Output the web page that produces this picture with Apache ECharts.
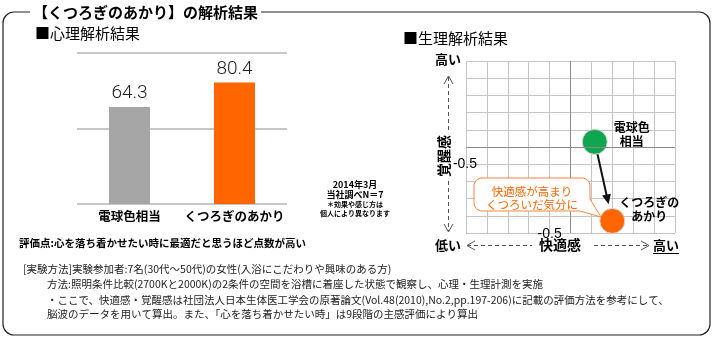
<!DOCTYPE html>
<html>
<head>
<meta charset="utf-8">
<script src="https://cdn.jsdelivr.net/npm/echarts@6/dist/echarts.min.js"></script>
<style>
html,body{margin:0;padding:0;background:#fff;}
#c{width:712px;height:337px;}
</style>
</head>
<body>
<div id="c"></div>
<script>
// 心理解析結果（棒グラフ）
const barCategories = ['電球色相当', 'くつろぎのあかり'];
const barValues = [64.3, 80.4];
const barColors = ['#A6A6A6', '#FF6600'];
const barTicks = { min: 0, max: 100, step: 50 };

// 生理解析結果（快適感 × 覚醒感）
const pointNames = ['電球色\n相当', 'くつろぎの\nあかり'];
const comfortValues = [0.58, 1.0];
const arousalValues = [0.15, -2.15];
const pointColors = ['#10A650', '#FF6600'];
const mapTicks = { min: -2.5, max: 2.5, step: 0.5 };
const shownTick = -0.5;

const noteLines = [
  '[実験方法]実験参加者:7名(30代〜50代)の女性(入浴にこだわりや興味のある方)',
  '方法:照明条件比較(2700Kと2000K)の2条件の空間を浴槽に着座した状態で観察し、心理・生理計測を実施',
  '・ここで、快適感・覚醒感は社団法人日本生体医工学会の原著論文(Vol.48(2010),No.2,pp.197-206)に記載の評価方法を参考にして、',
  '脳波のデータを用いて算出。また、「心を落ち着かせたい時」は9段階の主感評価により算出'
];
const surveyLines = ['2014年3月', '当社調べN＝7', '＊効果や感じ方は', '個人により異なります'];

const JP = '"Noto Sans CJK JP", "Noto Sans", sans-serif';
const chart = echarts.init(document.getElementById('c'));

function txt(id, x, y, text, o) {
  return { type: 'text', id: id, x: x, y: y, z: 10,
    style: Object.assign({ text: text, fontFamily: JP, fontSize: 12, fill: '#000',
      align: 'left', verticalAlign: 'middle' }, o || {}) };
}
function dashed(id, pts) {
  return { type: 'polyline', id: id, z: 5, shape: { points: pts },
    style: { stroke: '#555', lineWidth: 1, lineDash: [4, 3], fill: null } };
}
function chevron(id, pts) {
  return { type: 'polyline', id: id, z: 5, shape: { points: pts },
    style: { stroke: '#555', lineWidth: 1, fill: null } };
}
// quarter-circle corner points for the balloon outline
function corner(cx, cy, r, a0, a1) {
  const pts = [];
  for (let k = 0; k <= 6; k++) {
    const a = a0 + (a1 - a0) * k / 6;
    pts.push([cx + r * Math.cos(a), cy + r * Math.sin(a)]);
  }
  return pts;
}
const bx0 = 474, by0 = 178, bx1 = 590, by1 = 211, br = 8;
const balloonPts = [].concat(
  corner(bx0 + br, by0 + br, br, Math.PI, Math.PI * 1.5),
  corner(bx1 - br, by0 + br, br, Math.PI * 1.5, Math.PI * 2),
  [[bx1, 199], [601, 217], [580, by1]],
  corner(bx0 + br, by1 - br, br, Math.PI * 0.5, Math.PI)
);

const graphics = [
  // outer frame
  { type: 'rect', id: 'frame', z: 1, shape: { x: 3, y: 12, width: 707, height: 323, r: 11 },
    style: { fill: null, stroke: '#222', lineWidth: 1.2 } },
  txt('title', 30, 12, '【くつろぎのあかり】の解析結果',
    { fontSize: 15, fontWeight: 'bold', backgroundColor: '#fff', padding: [2, 3] }),
  txt('h1', 35, 33, '■心理解析結果', { fontSize: 15 }),
  txt('h2', 403, 38, '■生理解析結果', { fontSize: 15 }),
  txt('evalNote', 19, 243, '評価点:心を落ち着かせたい時に最適だと思うほど点数が高い',
    { fontSize: 10.5, fontWeight: 'bold' }),
  txt('s0', 355, 185, surveyLines[0], { fontSize: 9, fontWeight: 'bold', align: 'center' }),
  txt('s1', 355, 195, surveyLines[1], { fontSize: 9, fontWeight: 'bold', align: 'center' }),
  txt('s2', 355, 204, surveyLines[2], { fontSize: 7, fontWeight: 'bold', align: 'center' }),
  txt('s3', 355, 213, surveyLines[3], { fontSize: 7, fontWeight: 'bold', align: 'center' }),
  txt('n0', 23, 269, noteLines[0], { fontSize: 10.5, fill: '#222' }),
  txt('n1', 47, 284, noteLines[1], { fontSize: 10.5, fill: '#222' }),
  txt('n2', 47, 300, noteLines[2], { fontSize: 10.5, fill: '#222' }),
  txt('n3', 47, 314, noteLines[3], { fontSize: 10.5, fill: '#222' }),

  // scatter axis captions
  txt('hiTop', 435, 59, '高い', { fontSize: 13, fontWeight: 'bold' }),
  txt('lo', 435, 245, '低い', { fontSize: 13, fontWeight: 'bold' }),
  txt('hiRight', 653, 245, '高い', { fontSize: 13, fontWeight: 'bold' }),
  { type: 'line', id: 'hiLine', z: 5, shape: { x1: 653, y1: 253.5, x2: 679, y2: 253.5 },
    style: { stroke: '#000', lineWidth: 1 } },
  txt('xName', 560, 245, '快適感', { fontSize: 14, fontWeight: 'bold', align: 'center' }),
  { type: 'text', id: 'yName', x: 444, y: 156, rotation: Math.PI / 2, z: 10,
    style: { text: '覚醒感', fontFamily: JP, fontSize: 14, fontWeight: 'bold', fill: '#000',
      align: 'center', verticalAlign: 'middle' } },
  dashed('xl', [[467, 245.5], [532, 245.5]]),
  chevron('xlh', [[475, 241], [467, 245.5], [475, 250]]),
  dashed('xr', [[594, 245.5], [648, 245.5]]),
  chevron('xrh', [[641, 241], [649, 245.5], [641, 250]]),
  dashed('yt', [[448.5, 77], [448.5, 131]]),
  chevron('yth', [[444, 84], [448.5, 76], [453, 84]]),
  dashed('yb', [[448.5, 181], [448.5, 231]]),
  chevron('ybh', [[444, 224], [448.5, 232], [453, 224]]),

  // speech balloon
  { type: 'polygon', id: 'balloon', z: 6, shape: { points: balloonPts },
    style: { fill: '#fff', stroke: '#F7893A', lineWidth: 1 } },
  txt('b1', 532, 191.5, '快適感が高まり', { fontSize: 11.5, fill: '#FF6600', align: 'center' }),
  txt('b2', 532, 205, 'くつろいだ気分に', { fontSize: 11.5, fill: '#FF6600', align: 'center' })
];

const option = {
  animation: false,
  backgroundColor: '#fff',
  grid: [
    { left: 77, top: 53, width: 210, height: 151 },
    { left: 466, top: 61, width: 209, height: 172 }
  ],
  xAxis: [
    { gridIndex: 0, type: 'category', data: barCategories,
      axisLine: { show: false }, axisTick: { show: false },
      axisLabel: { interval: 0, fontFamily: JP, fontWeight: 'bold', fontSize: 12.5, color: '#000', margin: 6 } },
    { gridIndex: 1, type: 'value', min: mapTicks.min, max: mapTicks.max, interval: mapTicks.step,
      axisLine: { show: false }, axisTick: { show: false },
      splitLine: { lineStyle: { color: '#c4c4c4', width: 1 } },
      axisLabel: { formatter: v => (Math.abs(v - shownTick) < 1e-9 ? String(shownTick) : ''),
        fontFamily: '"Liberation Sans", Arial, sans-serif', fontSize: 14, color: '#000', margin: -6 } }
  ],
  yAxis: [
    { gridIndex: 0, type: 'value', min: barTicks.min, max: barTicks.max, interval: barTicks.step,
      axisLine: { show: false }, axisTick: { show: false }, axisLabel: { show: false },
      splitLine: { lineStyle: { color: '#b4b4b4', width: 1.5 } } },
    { gridIndex: 1, type: 'value', min: mapTicks.min, max: mapTicks.max, interval: mapTicks.step,
      axisLine: { show: false }, axisTick: { show: false },
      splitLine: { lineStyle: { color: '#c4c4c4', width: 1 } },
      axisLabel: { formatter: v => (Math.abs(v - shownTick) < 1e-9 ? String(shownTick) : ''),
        fontFamily: '"Liberation Sans", Arial, sans-serif', fontSize: 14, color: '#000', margin: -11 } }
  ],
  series: [
    { type: 'bar', xAxisIndex: 0, yAxisIndex: 0, barWidth: 41,
      data: barValues.map((v, i) => ({ value: v, itemStyle: { color: barColors[i] } })),
      label: { show: true, position: 'top', distance: 4, fontFamily: 'Roboto, "Liberation Sans", sans-serif',
        fontWeight: 300, fontSize: 19, color: '#222' } },
    // centre cross of the comfort/arousal map
    { type: 'scatter', xAxisIndex: 1, yAxisIndex: 1, data: [], z: 1,
      markLine: { silent: true, symbol: 'none', label: { show: false },
        lineStyle: { color: '#8a8a8a', width: 1, type: 'solid' },
        data: [{ xAxis: 0 }, { yAxis: 0 }] } },
    { type: 'scatter', xAxisIndex: 1, yAxisIndex: 1, z: 4, symbolSize: 25,
      itemStyle: { borderColor: '#d8d8d8', borderWidth: 1, opacity: 1 },
      data: comfortValues.map((x, i) => ({
        value: [x, arousalValues[i]], name: pointNames[i],
        itemStyle: { color: pointColors[i] },
        label: { offset: i === 0 ? [37, -7] : [37, -12] }
      })),
      label: { show: true, position: 'inside', formatter: p => p.name, align: 'center',
        fontFamily: JP, fontWeight: 'bold', fontSize: 12, lineHeight: 14, color: '#000' } }
  ],
  graphic: graphics
};
chart.setOption(option);

// arrow from 電球色相当 to くつろぎのあかり
const pA = chart.convertToPixel({ gridIndex: 1 }, [comfortValues[0], arousalValues[0]]);
const pB = chart.convertToPixel({ gridIndex: 1 }, [comfortValues[1], arousalValues[1]]);
const dx = pB[0] - pA[0], dy = pB[1] - pA[1];
const len = Math.sqrt(dx * dx + dy * dy);
const ux = dx / len, uy = dy / len;
const tip = [pB[0] - ux * 17, pB[1] - uy * 17];
const base = [tip[0] - ux * 10, tip[1] - uy * 10];
const px = -uy, py = ux;
chart.setOption({ graphic: [
  { type: 'line', id: 'arrowLine', z: 1, shape: { x1: pA[0], y1: pA[1], x2: base[0] + ux * 2, y2: base[1] + uy * 2 },
    style: { stroke: '#111', lineWidth: 2 } },
  { type: 'polygon', id: 'arrowHead', z: 1,
    shape: { points: [tip, [base[0] + px * 4.5, base[1] + py * 4.5], [base[0] - px * 4.5, base[1] - py * 4.5]] },
    style: { fill: '#111' } }
] });
</script>
</body>
</html>
